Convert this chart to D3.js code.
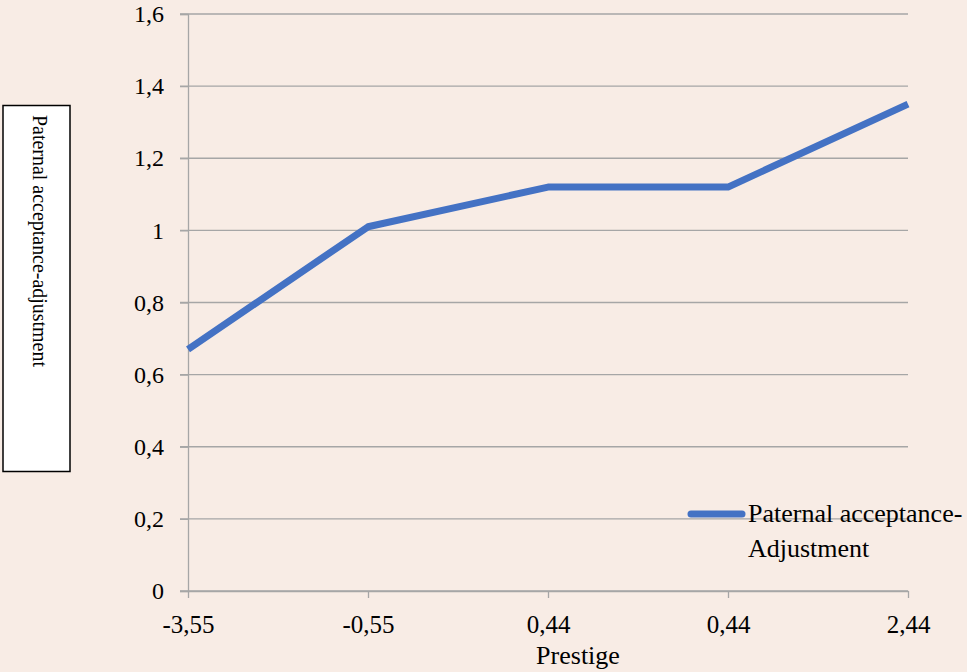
<!DOCTYPE html>
<html><head><meta charset="utf-8">
<script src="https://cdn.jsdelivr.net/npm/d3@7"></script>
<style>
html,body{margin:0;padding:0;background:#f8ece5;}
svg{display:block;}
text{font-family:"Liberation Serif","Times New Roman",serif;fill:#000;}
</style></head><body>
<svg id="chart" width="967" height="672"></svg>
<script>
const categories = ["-3,55", "-0,55", "0,44", "0,44", "2,44"];
const values = [0.67, 1.01, 1.12, 1.12, 1.35];
const yTicks = [0, 0.2, 0.4, 0.6, 0.8, 1, 1.2, 1.4, 1.6];
const seriesName = ["Paternal acceptance-", "Adjustment"];
const xTitle = "Prestige";
const yTitle = "Paternal acceptance-adjustment";

(function () {
const svg = d3.select("#chart");
svg.append("rect").attr("width", 967).attr("height", 672).attr("fill", "#f8ece5");

const pL = 188, pR = 908, pT = 14, pB = 591;
const x = d3.scalePoint().domain(d3.range(categories.length)).range([pL, pR]);
const y = d3.scaleLinear().domain([0, 1.6]).range([pB, pT]);
const fmt = d => String(d).replace(".", ",");
const grid = "#a6a6a6";

// gridlines
svg.append("g").selectAll("line").data(yTicks).join("line")
  .attr("x1", pL - 8).attr("x2", pR)
  .attr("y1", d => y(d)).attr("y2", d => y(d))
  .attr("stroke", grid).attr("stroke-width", 1.3);

// y axis
const yAxis = svg.append("g").attr("transform", `translate(${pL},0)`)
  .call(d3.axisLeft(y).tickValues(yTicks).tickFormat(fmt).tickSize(8).tickPadding(16));
yAxis.select(".domain").attr("stroke", grid).attr("stroke-width", 1.3);
yAxis.selectAll(".tick line").attr("stroke", grid).attr("stroke-width", 1.3);
yAxis.selectAll("text").attr("font-size", 24).attr("font-family", "Liberation Serif").attr("fill", "#000");

// x axis
const xAxis = svg.append("g").attr("transform", `translate(0,${pB})`)
  .call(d3.axisBottom(x).tickFormat(i => categories[i]).tickSize(7).tickPadding(12).tickSizeOuter(0));
xAxis.select(".domain").attr("stroke", grid).attr("stroke-width", 1.3);
xAxis.selectAll(".tick line").attr("stroke", grid).attr("stroke-width", 1.3);
xAxis.selectAll("text").attr("font-size", 25).attr("font-family", "Liberation Serif").attr("fill", "#000")
  .attr("dy", null).attr("y", 42);

// line
const line = d3.line().x((d, i) => x(i)).y(d => y(d));
svg.append("path").datum(values).attr("d", line)
  .attr("fill", "none").attr("stroke", "#4472c4").attr("stroke-width", 7)
  .attr("stroke-linejoin", "round").attr("stroke-linecap", "butt");

// legend
svg.append("line").attr("x1", 691).attr("x2", 742).attr("y1", 514).attr("y2", 514)
  .attr("stroke", "#4472c4").attr("stroke-width", 7).attr("stroke-linecap", "round");
svg.append("text").attr("x", 748).attr("y", 522).attr("font-size", 26).text(seriesName[0]);
svg.append("text").attr("x", 748).attr("y", 557).attr("font-size", 26).text(seriesName[1]);

// x title
svg.append("text").attr("x", 578).attr("y", 664).attr("text-anchor", "middle")
  .attr("font-size", 26).text(xTitle);

// y title box
svg.append("rect").attr("x", 3).attr("y", 105.5).attr("width", 67).attr("height", 366)
  .attr("fill", "#ffffff").attr("stroke", "#000").attr("stroke-width", 1.5);
svg.append("text").attr("transform", "translate(33,115) rotate(90)")
  .attr("font-size", 20).attr("textLength", 252).attr("lengthAdjust", "spacingAndGlyphs")
  .text(yTitle);
})();
</script>
</body></html>
